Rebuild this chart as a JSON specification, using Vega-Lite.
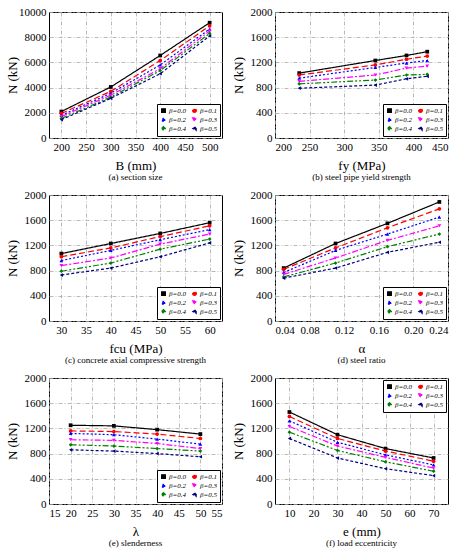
{
  "$schema": "https://vega.github.io/schema/vega-lite/v6.json",
  "background": "white",
  "padding": 5,
  "config": {
    "font": "Liberation Serif",
    "view": {"stroke": "black", "strokeWidth": 1},
    "axis": {
      "labelFont": "Liberation Serif",
      "labelFontSize": 11,
      "labelColor": "black",
      "titleFont": "Liberation Serif",
      "titleFontSize": 13,
      "titleFontWeight": "normal",
      "titleColor": "black",
      "domain": false,
      "ticks": false,
      "labelPadding": 3,
      "grid": true,
      "gridColor": "#a8a8a8",
      "gridDash": [4, 2, 1, 2],
      "gridWidth": 0.8
    },
    "axisX": {"titlePadding": 7},
    "axisY": {"titleX": -30},
    "title": {
      "orient": "bottom",
      "font": "Liberation Serif",
      "fontSize": 9,
      "fontWeight": "normal",
      "color": "black",
      "offset": 1
    },
    "legend": {
      "title": null,
      "direction": "horizontal",
      "labelFont": "Liberation Serif",
      "labelFontSize": 7,
      "labelFontStyle": "italic",
      "labelColor": "black",
      "symbolSize": 14,
      "symbolStrokeWidth": 1,
      "rowPadding": 0,
      "columnPadding": 4,
      "padding": 3,
      "offset": 2,
      "strokeColor": "black",
      "fillColor": "white",
      "columns": 2,
      "labelOffset": 2
    },
    "line": {"strokeWidth": 1.2},
    "point": {"filled": true, "size": 14, "opacity": 1}
  },
  "datasets": {
    "a": [
      {"beta": "β=0.0", "x": 200, "N": 2100}, {"beta": "β=0.0", "x": 300, "N": 4050}, {"beta": "β=0.0", "x": 400, "N": 6550}, {"beta": "β=0.0", "x": 500, "N": 9150},
      {"beta": "β=0.1", "x": 200, "N": 1950}, {"beta": "β=0.1", "x": 300, "N": 3700}, {"beta": "β=0.1", "x": 400, "N": 6150}, {"beta": "β=0.1", "x": 500, "N": 8900},
      {"beta": "β=0.2", "x": 200, "N": 1800}, {"beta": "β=0.2", "x": 300, "N": 3550}, {"beta": "β=0.2", "x": 400, "N": 5800}, {"beta": "β=0.2", "x": 500, "N": 8650},
      {"beta": "β=0.3", "x": 200, "N": 1700}, {"beta": "β=0.3", "x": 300, "N": 3400}, {"beta": "β=0.3", "x": 400, "N": 5500}, {"beta": "β=0.3", "x": 500, "N": 8500},
      {"beta": "β=0.4", "x": 200, "N": 1550}, {"beta": "β=0.4", "x": 300, "N": 3250}, {"beta": "β=0.4", "x": 400, "N": 5350}, {"beta": "β=0.4", "x": 500, "N": 8300},
      {"beta": "β=0.5", "x": 200, "N": 1450}, {"beta": "β=0.5", "x": 300, "N": 3150}, {"beta": "β=0.5", "x": 400, "N": 5100}, {"beta": "β=0.5", "x": 500, "N": 8100}
    ],
    "b": [
      {"beta": "β=0.0", "x": 235, "N": 1030}, {"beta": "β=0.0", "x": 345, "N": 1230}, {"beta": "β=0.0", "x": 390, "N": 1310}, {"beta": "β=0.0", "x": 420, "N": 1370},
      {"beta": "β=0.1", "x": 235, "N": 1000}, {"beta": "β=0.1", "x": 345, "N": 1160}, {"beta": "β=0.1", "x": 390, "N": 1250}, {"beta": "β=0.1", "x": 420, "N": 1300},
      {"beta": "β=0.2", "x": 235, "N": 950}, {"beta": "β=0.2", "x": 345, "N": 1120}, {"beta": "β=0.2", "x": 390, "N": 1190}, {"beta": "β=0.2", "x": 420, "N": 1230},
      {"beta": "β=0.3", "x": 235, "N": 900}, {"beta": "β=0.3", "x": 345, "N": 1000}, {"beta": "β=0.3", "x": 390, "N": 1110}, {"beta": "β=0.3", "x": 420, "N": 1140},
      {"beta": "β=0.4", "x": 235, "N": 860}, {"beta": "β=0.4", "x": 345, "N": 920}, {"beta": "β=0.4", "x": 390, "N": 1000}, {"beta": "β=0.4", "x": 420, "N": 1010},
      {"beta": "β=0.5", "x": 235, "N": 790}, {"beta": "β=0.5", "x": 345, "N": 840}, {"beta": "β=0.5", "x": 390, "N": 940}, {"beta": "β=0.5", "x": 420, "N": 980}
    ],
    "c": [
      {"beta": "β=0.0", "x": 30, "N": 1070}, {"beta": "β=0.0", "x": 40, "N": 1230}, {"beta": "β=0.0", "x": 50, "N": 1390}, {"beta": "β=0.0", "x": 60, "N": 1560},
      {"beta": "β=0.1", "x": 30, "N": 1020}, {"beta": "β=0.1", "x": 40, "N": 1160}, {"beta": "β=0.1", "x": 50, "N": 1340}, {"beta": "β=0.1", "x": 60, "N": 1510},
      {"beta": "β=0.2", "x": 30, "N": 960}, {"beta": "β=0.2", "x": 40, "N": 1120}, {"beta": "β=0.2", "x": 50, "N": 1290}, {"beta": "β=0.2", "x": 60, "N": 1450},
      {"beta": "β=0.3", "x": 30, "N": 880}, {"beta": "β=0.3", "x": 40, "N": 1000}, {"beta": "β=0.3", "x": 50, "N": 1220}, {"beta": "β=0.3", "x": 60, "N": 1380},
      {"beta": "β=0.4", "x": 30, "N": 790}, {"beta": "β=0.4", "x": 40, "N": 920}, {"beta": "β=0.4", "x": 50, "N": 1140}, {"beta": "β=0.4", "x": 60, "N": 1300},
      {"beta": "β=0.5", "x": 30, "N": 730}, {"beta": "β=0.5", "x": 40, "N": 840}, {"beta": "β=0.5", "x": 50, "N": 1020}, {"beta": "β=0.5", "x": 60, "N": 1240}
    ],
    "d": [
      {"beta": "β=0.0", "x": 0.05, "N": 840}, {"beta": "β=0.0", "x": 0.11, "N": 1230}, {"beta": "β=0.0", "x": 0.17, "N": 1550}, {"beta": "β=0.0", "x": 0.23, "N": 1890},
      {"beta": "β=0.1", "x": 0.05, "N": 820}, {"beta": "β=0.1", "x": 0.11, "N": 1160}, {"beta": "β=0.1", "x": 0.17, "N": 1480}, {"beta": "β=0.1", "x": 0.23, "N": 1780},
      {"beta": "β=0.2", "x": 0.05, "N": 770}, {"beta": "β=0.2", "x": 0.11, "N": 1120}, {"beta": "β=0.2", "x": 0.17, "N": 1380}, {"beta": "β=0.2", "x": 0.23, "N": 1650},
      {"beta": "β=0.3", "x": 0.05, "N": 740}, {"beta": "β=0.3", "x": 0.11, "N": 1000}, {"beta": "β=0.3", "x": 0.17, "N": 1280}, {"beta": "β=0.3", "x": 0.23, "N": 1510},
      {"beta": "β=0.4", "x": 0.05, "N": 700}, {"beta": "β=0.4", "x": 0.11, "N": 920}, {"beta": "β=0.4", "x": 0.17, "N": 1180}, {"beta": "β=0.4", "x": 0.23, "N": 1380},
      {"beta": "β=0.5", "x": 0.05, "N": 680}, {"beta": "β=0.5", "x": 0.11, "N": 840}, {"beta": "β=0.5", "x": 0.17, "N": 1090}, {"beta": "β=0.5", "x": 0.23, "N": 1250}
    ],
    "e": [
      {"beta": "β=0.0", "x": 20, "N": 1250}, {"beta": "β=0.0", "x": 30, "N": 1240}, {"beta": "β=0.0", "x": 40, "N": 1180}, {"beta": "β=0.0", "x": 50, "N": 1110},
      {"beta": "β=0.1", "x": 20, "N": 1160}, {"beta": "β=0.1", "x": 30, "N": 1150}, {"beta": "β=0.1", "x": 40, "N": 1110}, {"beta": "β=0.1", "x": 50, "N": 1040},
      {"beta": "β=0.2", "x": 20, "N": 1120}, {"beta": "β=0.2", "x": 30, "N": 1100}, {"beta": "β=0.2", "x": 40, "N": 1030}, {"beta": "β=0.2", "x": 50, "N": 950},
      {"beta": "β=0.3", "x": 20, "N": 1020}, {"beta": "β=0.3", "x": 30, "N": 1010}, {"beta": "β=0.3", "x": 40, "N": 960}, {"beta": "β=0.3", "x": 50, "N": 880},
      {"beta": "β=0.4", "x": 20, "N": 940}, {"beta": "β=0.4", "x": 30, "N": 920}, {"beta": "β=0.4", "x": 40, "N": 880}, {"beta": "β=0.4", "x": 50, "N": 840},
      {"beta": "β=0.5", "x": 20, "N": 860}, {"beta": "β=0.5", "x": 30, "N": 840}, {"beta": "β=0.5", "x": 40, "N": 800}, {"beta": "β=0.5", "x": 50, "N": 750}
    ],
    "f": [
      {"beta": "β=0.0", "x": 10, "N": 1460}, {"beta": "β=0.0", "x": 30, "N": 1100}, {"beta": "β=0.0", "x": 50, "N": 880}, {"beta": "β=0.0", "x": 70, "N": 730},
      {"beta": "β=0.1", "x": 10, "N": 1390}, {"beta": "β=0.1", "x": 30, "N": 1040}, {"beta": "β=0.1", "x": 50, "N": 840}, {"beta": "β=0.1", "x": 70, "N": 680},
      {"beta": "β=0.2", "x": 10, "N": 1320}, {"beta": "β=0.2", "x": 30, "N": 980}, {"beta": "β=0.2", "x": 50, "N": 780}, {"beta": "β=0.2", "x": 70, "N": 620},
      {"beta": "β=0.3", "x": 10, "N": 1230}, {"beta": "β=0.3", "x": 30, "N": 920}, {"beta": "β=0.3", "x": 50, "N": 740}, {"beta": "β=0.3", "x": 70, "N": 570},
      {"beta": "β=0.4", "x": 10, "N": 1140}, {"beta": "β=0.4", "x": 30, "N": 850}, {"beta": "β=0.4", "x": 50, "N": 670}, {"beta": "β=0.4", "x": 70, "N": 520},
      {"beta": "β=0.5", "x": 10, "N": 1040}, {"beta": "β=0.5", "x": 30, "N": 730}, {"beta": "β=0.5", "x": 50, "N": 560}, {"beta": "β=0.5", "x": 70, "N": 450}
    ]
  },
  "columns": 2,
  "bounds": "flush",
  "spacing": {"row": 57, "column": 53},
  "resolve": {
    "scale": {"x": "independent", "y": "independent"},
    "legend": {"color": "independent", "shape": "independent", "strokeDash": "independent"}
  },
  "concat": [
    {
      "width": 173, "height": 126,
      "data": {"name": "a"},
      "title": "(a) section size",
      "encoding": {
        "x": {"field": "x", "type": "quantitative", "scale": {"domain": [175, 525], "nice": false, "zero": false}, "axis": {"title": "B (mm)", "values": [200, 250, 300, 350, 400, 450, 500]}},
        "y": {"field": "N", "type": "quantitative", "scale": {"domain": [0, 10000], "nice": false}, "axis": {"title": "N (kN)", "values": [0, 2000, 4000, 6000, 8000, 10000], "format": "d"}},
        "color": {"field": "beta", "type": "nominal", "scale": {"domain": ["β=0.0", "β=0.1", "β=0.2", "β=0.3", "β=0.4", "β=0.5"], "range": ["#000000", "#ff0000", "#0000ff", "#ff00ff", "#008000", "#000080"]}, "legend": {"orient": "bottom-right"}}
      },
      "layer": [
        {"mark": "line", "encoding": {"strokeDash": {"field": "beta", "type": "nominal", "scale": {"domain": ["β=0.0", "β=0.1", "β=0.2", "β=0.3", "β=0.4", "β=0.5"], "range": [[1, 0], [6, 3], [2, 2], [6, 2, 2, 2], [6, 2, 2, 2, 2, 2], [3, 2]]}}}},
        {"mark": "point", "encoding": {"shape": {"field": "beta", "type": "nominal", "scale": {"domain": ["β=0.0", "β=0.1", "β=0.2", "β=0.3", "β=0.4", "β=0.5"], "range": ["square", "circle", "triangle-up", "triangle-down", "diamond", "triangle-left"]}}}}
      ]
    },
    {
      "width": 173, "height": 126,
      "data": {"name": "b"},
      "title": "(b) steel pipe yield strength",
      "encoding": {
        "x": {"field": "x", "type": "quantitative", "scale": {"domain": [200, 450], "nice": false, "zero": false}, "axis": {"title": "fy (MPa)", "values": [200, 250, 300, 350, 400, 450]}},
        "y": {"field": "N", "type": "quantitative", "scale": {"domain": [0, 2000], "nice": false}, "axis": {"title": "N (kN)", "values": [0, 400, 800, 1200, 1600, 2000], "format": "d"}},
        "color": {"field": "beta", "type": "nominal", "scale": {"domain": ["β=0.0", "β=0.1", "β=0.2", "β=0.3", "β=0.4", "β=0.5"], "range": ["#000000", "#ff0000", "#0000ff", "#ff00ff", "#008000", "#000080"]}, "legend": {"orient": "bottom-right"}}
      },
      "layer": [
        {"mark": "line", "encoding": {"strokeDash": {"field": "beta", "type": "nominal", "scale": {"domain": ["β=0.0", "β=0.1", "β=0.2", "β=0.3", "β=0.4", "β=0.5"], "range": [[1, 0], [6, 3], [2, 2], [6, 2, 2, 2], [6, 2, 2, 2, 2, 2], [3, 2]]}}}},
        {"mark": "point", "encoding": {"shape": {"field": "beta", "type": "nominal", "scale": {"domain": ["β=0.0", "β=0.1", "β=0.2", "β=0.3", "β=0.4", "β=0.5"], "range": ["square", "circle", "triangle-up", "triangle-down", "diamond", "triangle-left"]}}}}
      ]
    },
    {
      "width": 173, "height": 126,
      "data": {"name": "c"},
      "title": "(c) concrete axial compressive strength",
      "encoding": {
        "x": {"field": "x", "type": "quantitative", "scale": {"domain": [27.5, 62.5], "nice": false, "zero": false}, "axis": {"title": "fcu (MPa)", "values": [30, 35, 40, 45, 50, 55, 60]}},
        "y": {"field": "N", "type": "quantitative", "scale": {"domain": [0, 2000], "nice": false}, "axis": {"title": "N (kN)", "values": [0, 400, 800, 1200, 1600, 2000], "format": "d"}},
        "color": {"field": "beta", "type": "nominal", "scale": {"domain": ["β=0.0", "β=0.1", "β=0.2", "β=0.3", "β=0.4", "β=0.5"], "range": ["#000000", "#ff0000", "#0000ff", "#ff00ff", "#008000", "#000080"]}, "legend": {"orient": "bottom-right"}}
      },
      "layer": [
        {"mark": "line", "encoding": {"strokeDash": {"field": "beta", "type": "nominal", "scale": {"domain": ["β=0.0", "β=0.1", "β=0.2", "β=0.3", "β=0.4", "β=0.5"], "range": [[1, 0], [6, 3], [2, 2], [6, 2, 2, 2], [6, 2, 2, 2, 2, 2], [3, 2]]}}}},
        {"mark": "point", "encoding": {"shape": {"field": "beta", "type": "nominal", "scale": {"domain": ["β=0.0", "β=0.1", "β=0.2", "β=0.3", "β=0.4", "β=0.5"], "range": ["square", "circle", "triangle-up", "triangle-down", "diamond", "triangle-left"]}}}}
      ]
    },
    {
      "width": 173, "height": 126,
      "data": {"name": "d"},
      "title": "(d) steel ratio",
      "encoding": {
        "x": {"field": "x", "type": "quantitative", "scale": {"domain": [0.04, 0.24], "nice": false, "zero": false}, "axis": {"title": "α", "values": [0.04, 0.08, 0.12, 0.16, 0.2, 0.24], "format": ".2f"}},
        "y": {"field": "N", "type": "quantitative", "scale": {"domain": [0, 2000], "nice": false}, "axis": {"title": "N (kN)", "values": [0, 400, 800, 1200, 1600, 2000], "format": "d"}},
        "color": {"field": "beta", "type": "nominal", "scale": {"domain": ["β=0.0", "β=0.1", "β=0.2", "β=0.3", "β=0.4", "β=0.5"], "range": ["#000000", "#ff0000", "#0000ff", "#ff00ff", "#008000", "#000080"]}, "legend": {"orient": "bottom-right"}}
      },
      "layer": [
        {"mark": "line", "encoding": {"strokeDash": {"field": "beta", "type": "nominal", "scale": {"domain": ["β=0.0", "β=0.1", "β=0.2", "β=0.3", "β=0.4", "β=0.5"], "range": [[1, 0], [6, 3], [2, 2], [6, 2, 2, 2], [6, 2, 2, 2, 2, 2], [3, 2]]}}}},
        {"mark": "point", "encoding": {"shape": {"field": "beta", "type": "nominal", "scale": {"domain": ["β=0.0", "β=0.1", "β=0.2", "β=0.3", "β=0.4", "β=0.5"], "range": ["square", "circle", "triangle-up", "triangle-down", "diamond", "triangle-left"]}}}}
      ]
    },
    {
      "width": 173, "height": 126,
      "data": {"name": "e"},
      "title": "(e) slenderness",
      "encoding": {
        "x": {"field": "x", "type": "quantitative", "scale": {"domain": [15, 55], "nice": false, "zero": false}, "axis": {"title": "λ", "values": [15, 20, 25, 30, 35, 40, 45, 50, 55]}},
        "y": {"field": "N", "type": "quantitative", "scale": {"domain": [0, 2000], "nice": false}, "axis": {"title": "N (kN)", "values": [0, 400, 800, 1200, 1600, 2000], "format": "d"}},
        "color": {"field": "beta", "type": "nominal", "scale": {"domain": ["β=0.0", "β=0.1", "β=0.2", "β=0.3", "β=0.4", "β=0.5"], "range": ["#000000", "#ff0000", "#0000ff", "#ff00ff", "#008000", "#000080"]}, "legend": {"orient": "bottom-right"}}
      },
      "layer": [
        {"mark": "line", "encoding": {"strokeDash": {"field": "beta", "type": "nominal", "scale": {"domain": ["β=0.0", "β=0.1", "β=0.2", "β=0.3", "β=0.4", "β=0.5"], "range": [[1, 0], [6, 3], [2, 2], [6, 2, 2, 2], [6, 2, 2, 2, 2, 2], [3, 2]]}}}},
        {"mark": "point", "encoding": {"shape": {"field": "beta", "type": "nominal", "scale": {"domain": ["β=0.0", "β=0.1", "β=0.2", "β=0.3", "β=0.4", "β=0.5"], "range": ["square", "circle", "triangle-up", "triangle-down", "diamond", "triangle-left"]}}}}
      ]
    },
    {
      "width": 173, "height": 126,
      "data": {"name": "f"},
      "title": "(f) load eccentricity",
      "encoding": {
        "x": {"field": "x", "type": "quantitative", "scale": {"domain": [4, 76], "nice": false, "zero": false}, "axis": {"title": "e (mm)", "values": [10, 20, 30, 40, 50, 60, 70]}},
        "y": {"field": "N", "type": "quantitative", "scale": {"domain": [0, 2000], "nice": false}, "axis": {"title": "N (kN)", "values": [0, 400, 800, 1200, 1600, 2000], "format": "d"}},
        "color": {"field": "beta", "type": "nominal", "scale": {"domain": ["β=0.0", "β=0.1", "β=0.2", "β=0.3", "β=0.4", "β=0.5"], "range": ["#000000", "#ff0000", "#0000ff", "#ff00ff", "#008000", "#000080"]}, "legend": {"orient": "top-right"}}
      },
      "layer": [
        {"mark": "line", "encoding": {"strokeDash": {"field": "beta", "type": "nominal", "scale": {"domain": ["β=0.0", "β=0.1", "β=0.2", "β=0.3", "β=0.4", "β=0.5"], "range": [[1, 0], [6, 3], [2, 2], [6, 2, 2, 2], [6, 2, 2, 2, 2, 2], [3, 2]]}}}},
        {"mark": "point", "encoding": {"shape": {"field": "beta", "type": "nominal", "scale": {"domain": ["β=0.0", "β=0.1", "β=0.2", "β=0.3", "β=0.4", "β=0.5"], "range": ["square", "circle", "triangle-up", "triangle-down", "diamond", "triangle-left"]}}}}
      ]
    }
  ]
}
